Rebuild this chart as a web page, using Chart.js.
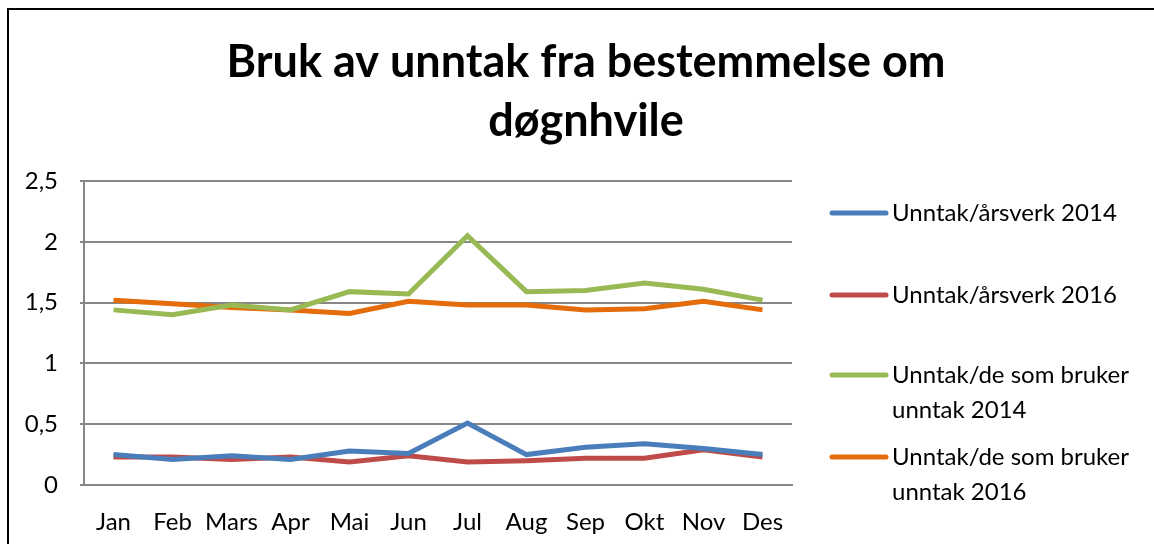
<!DOCTYPE html>
<html>
<head>
<meta charset="utf-8">
<script src="https://cdn.jsdelivr.net/npm/chart.js@4"></script>
<style>
  html, body { margin: 0; padding: 0; background: #fff; }
  #wrap { position: relative; width: 1154px; height: 544px; }
  #frame {
    position: absolute; left: 7px; top: 8px; right: -10px; bottom: -10px;
    border-left: 2px solid #000; border-top: 2px solid #000;
  }
  canvas { position: absolute; left: 0; top: 0; }
</style>
</head>
<body>
<div id="wrap">
  <div id="frame"></div>
  <canvas id="chart" width="1154" height="544"></canvas>
</div>
<script>
const months = ['Jan', 'Feb', 'Mars', 'Apr', 'Mai', 'Jun', 'Jul', 'Aug', 'Sep', 'Okt', 'Nov', 'Des'];
const perManYear2014 = [0.25, 0.21, 0.24, 0.21, 0.28, 0.26, 0.51, 0.25, 0.31, 0.34, 0.30, 0.25];
const perManYear2016 = [0.23, 0.23, 0.21, 0.23, 0.19, 0.24, 0.19, 0.20, 0.22, 0.22, 0.29, 0.23];
const perUser2014 = [1.44, 1.40, 1.48, 1.44, 1.59, 1.57, 2.05, 1.59, 1.60, 1.66, 1.61, 1.52];
const perUser2016 = [1.52, 1.49, 1.46, 1.44, 1.41, 1.51, 1.48, 1.48, 1.44, 1.45, 1.51, 1.44];
const seriesNames = [
    ['Unntak/årsverk 2014'],
    ['Unntak/årsverk 2016'],
    ['Unntak/de som bruker', 'unntak 2014'],
    ['Unntak/de som bruker', 'unntak 2016']
];
const yTicks = [0, 0.5, 1, 1.5, 2, 2.5];

const FONT = 'Lato, "Open Sans", sans-serif';
const colors = ['#4a7ebb', '#be4b48', '#98b954', '#e46c0a'];

// legend on the right, spaced like the original
const sideLegend = {
    id: 'sideLegend',
    afterDraw(chart) {
        const ctx = chart.ctx;
        const area = chart.chartArea;
        const x0 = area.right + 40;
        const offsets = [32, 114, 194, 276];
        ctx.save();
        ctx.font = '24px ' + FONT;
        ctx.fillStyle = '#000';
        ctx.textBaseline = 'middle';
        chart.data.datasets.forEach((ds, i) => {
            const y = area.top + offsets[i];
            ctx.strokeStyle = ds.borderColor;
            ctx.lineWidth = 5;
            ctx.lineCap = 'round';
            ctx.beginPath();
            ctx.moveTo(x0, y);
            ctx.lineTo(x0 + 54, y);
            ctx.stroke();
            seriesNames[i].forEach((line, j) => {
                ctx.fillText(line, x0 + 60, y + j * 35);
            });
        });
        ctx.restore();
    }
};

const ctx = document.getElementById('chart').getContext('2d');
new Chart(ctx, {
    type: 'line',
    data: {
        labels: months,
        datasets: [perManYear2014, perManYear2016, perUser2014, perUser2016].map((d, i) => ({
            label: seriesNames[i].join(' '),
            data: d,
            borderColor: colors[i],
            backgroundColor: colors[i],
            borderWidth: 5,
            pointRadius: 0,
            tension: 0,
            fill: false
        }))
    },
    options: {
        responsive: false,
        animation: false,
        layout: { padding: { left: 18, right: 0, top: 0, bottom: 9 } },
        plugins: {
            legend: { display: false },
            tooltip: { enabled: false },
            title: {
                display: true,
                text: ['Bruk av unntak fra bestemmelse om', 'døgnhvile'],
                color: '#000',
                font: { family: FONT, size: 45, weight: 'bold', lineHeight: 1.333 },
                padding: { top: 32, bottom: 29 }
            }
        },
        scales: {
            x: {
                offset: true,
                afterFit(scale) { scale.height = 50; },
                grid: { display: false, drawTicks: false },
                border: { color: '#878787', width: 2 },
                ticks: { color: '#000', font: { family: FONT, size: 24 }, padding: 23, maxRotation: 0, autoSkip: false }
            },
            y: {
                min: 0,
                max: 2.5,
                afterFit(scale) { scale.width = 66; },
                afterBuildTicks(scale) { scale.ticks = yTicks.map(v => ({ value: v })); },
                grid: { color: '#878787', lineWidth: 2, tickLength: 4 },
                border: { color: '#878787', width: 2 },
                ticks: {
                    color: '#000',
                    font: { family: FONT, size: 24 },
                    padding: 22,
                    callback: v => String(v).replace('.', ',')
                }
            },
            // empty space on the right for the legend
            legendSpace: {
                position: 'right',
                afterFit(scale) { scale.width = 362; },
                grid: { display: false },
                border: { display: false },
                ticks: { display: false }
            }
        }
    },
    plugins: [sideLegend]
});
</script>
</body>
</html>
